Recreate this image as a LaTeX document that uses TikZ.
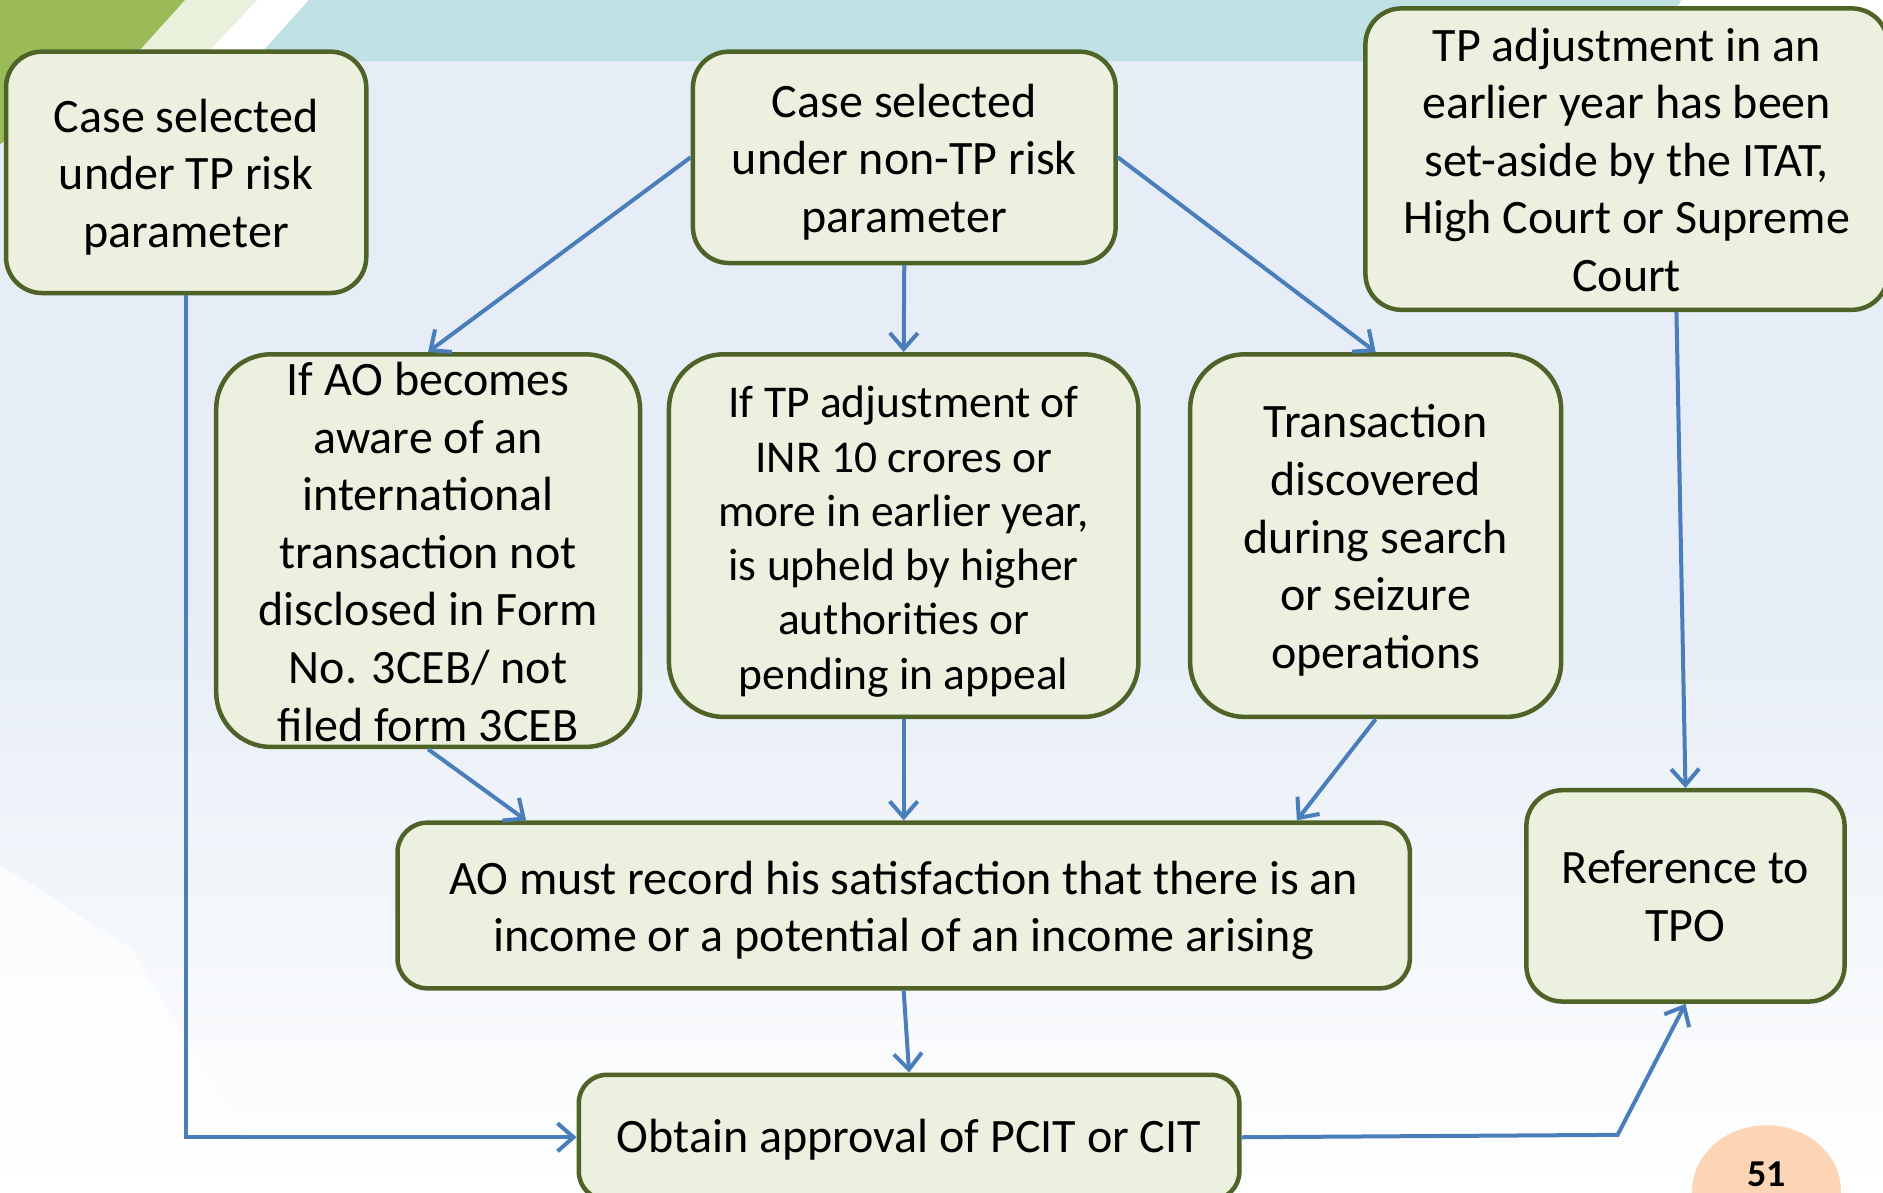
\documentclass[tikz,border=0pt]{standalone}
\usepackage{fontspec}
\setmainfont{Carlito}
\usetikzlibrary{arrows.meta,calc,shapes.geometric}
\definecolor{boxfill}{HTML}{EBF1DE}
\definecolor{boxline}{HTML}{4F6228}
\definecolor{arrowblue}{HTML}{4A7EBB}
\definecolor{bgblue}{HTML}{E6EDF6}
\definecolor{tealband}{HTML}{BFE1E3}
\definecolor{leafgreen}{HTML}{9BBB59}
\definecolor{paleleaf}{HTML}{E9F0DC}
\definecolor{peach}{HTML}{FBD5B5}
\tikzset{
  flowbox/.style={draw=boxline, line width=4.5pt, fill=boxfill, rounded corners=36pt, inner sep=0pt},
  boxtext/.style={align=center, inner sep=0pt, font=\fontsize{48}{57.6}\selectfont},
  sz/.style 2 args={minimum width=#1*1.2009pt, minimum height=#2*1.2009pt},
  conn/.style={draw=arrowblue, line width=4pt, -{Straight Barb[length=16pt,width=28pt]}}
}
\begin{document}
\begin{tikzpicture}[x=1.2009pt,y=-1.2009pt]
\useasboundingbox (0,0) rectangle (1568,993);
\clip (0,0) rectangle (1568,993);
% background
\fill[bgblue] (0,0) rectangle (1568,993);
\shade[top color=bgblue, bottom color=white] (0,500) rectangle (1568,993);
\fill[white, opacity=0.7] (0,993) -- (0,720) -- (110,790) -- (230,993) -- cycle;
\fill[tealband] (257,0) -- (1400,0) -- (1380,51) -- (211,51) -- cycle;
\fill[white] (214,0) -- (257,0) -- (211,51) -- (166,51) -- cycle;
\fill[paleleaf] (154,0) -- (214,0) -- (166,51) -- (108,51) -- cycle;
\fill[leafgreen] (0,0) -- (154,0) -- (108,51) -- (0,120) -- cycle;
\fill[white] (1400,0) -- (1568,0) -- (1568,20) -- (1390,20) -- cycle;

% boxes
\node[flowbox, sz={300}{201}] (A) at (155,143.5) {};
\node[flowbox, sz={352}{176}] (B) at (753,131) {};
\node[flowbox, sz={435}{251}] (C) at (1354.5,132.5) {};
\node[flowbox, sz={353}{327}, rounded corners=55pt] (D) at (356.5,458.5) {};
\node[flowbox, sz={391}{302}, rounded corners=55pt] (E) at (752.5,446) {};
\node[flowbox, sz={309}{302}, rounded corners=55pt] (F) at (1145.5,446) {};
\node[flowbox, sz={843}{138}, rounded corners=30pt] (G) at (752.5,754) {};
\node[flowbox, sz={265}{176}] (H) at (1403.5,746) {};
\node[flowbox, sz={550}{104}, rounded corners=28pt] (I) at (757,947) {};

% texts
\node[boxtext] (At) at ($(A)+(0,4)$) {Case selected\\under TP risk\\parameter};
\node[boxtext] (Bt) at ($(B)+(0,4)$) {Case selected\\under non-TP risk\\parameter};
\node[boxtext] (Ct) at ($(C)+(0,0.5)$) {TP adjustment in an\\earlier year has been\\set-aside by the ITAT,\\High Court or Supreme\\Court};
\node[boxtext] (Dt) at ($(D)+(0,1)$) {If AO becomes\\aware of an\\international\\transaction not\\disclosed in Form\\No. 3CEB/ not\\filed form 3CEB};
\node[boxtext, font=\fontsize{45.5}{54.3}\selectfont] (Et) at ($(E)+(0,5)$) {If TP adjustment of\\INR 10 crores or\\more in earlier year,\\is upheld by higher\\authorities or\\pending in appeal};
\node[boxtext] (Ft) at ($(F)+(0,4)$) {Transaction\\discovered\\during search\\or seizure\\operations};
\node[boxtext] (Gt) at ($(G)+(0,4)$) {AO must record his satisfaction that there is an\\income or a potential of an income arising};
\node[boxtext] (Ht) at ($(H)+(0,0.5)$) {Reference to\\TPO};
\node[boxtext] (It) at ($(I)+(0,2)$) {Obtain approval of PCIT or CIT};

% connectors
\draw[conn] (A.south) |- (I.west);
\draw[conn] (B.west) -- (D.north);
\draw[conn] (B.south) -- (E.north);
\draw[conn] (B.east) -- (F.north);
\draw[conn] ($(C.south)+(41.5,0)$) -- (H.north);
\draw[conn] (D.south) -- ($(G.north west)+(109,0)$);
\draw[conn] (E.south) -- (E.south |- G.north);
\draw[conn] (F.south) -- ($(G.north east)+(-96,0)$);
\draw[conn] (G.south) -- (I.north);
\coordinate (bend) at (1347,945);
\draw[conn] (I.east) -- (bend) -- (H.south);

% page number
\node[ellipse, fill=peach, minimum width=124*1.2009pt, minimum height=110*1.2009pt, inner sep=0pt] (pg) at (1471,992) {};
\node[font=\fontsize{38}{44}\selectfont\bfseries, anchor=base, inner sep=0pt] (pgnum) at (1471,988) {51};
\end{tikzpicture}
\end{document}
